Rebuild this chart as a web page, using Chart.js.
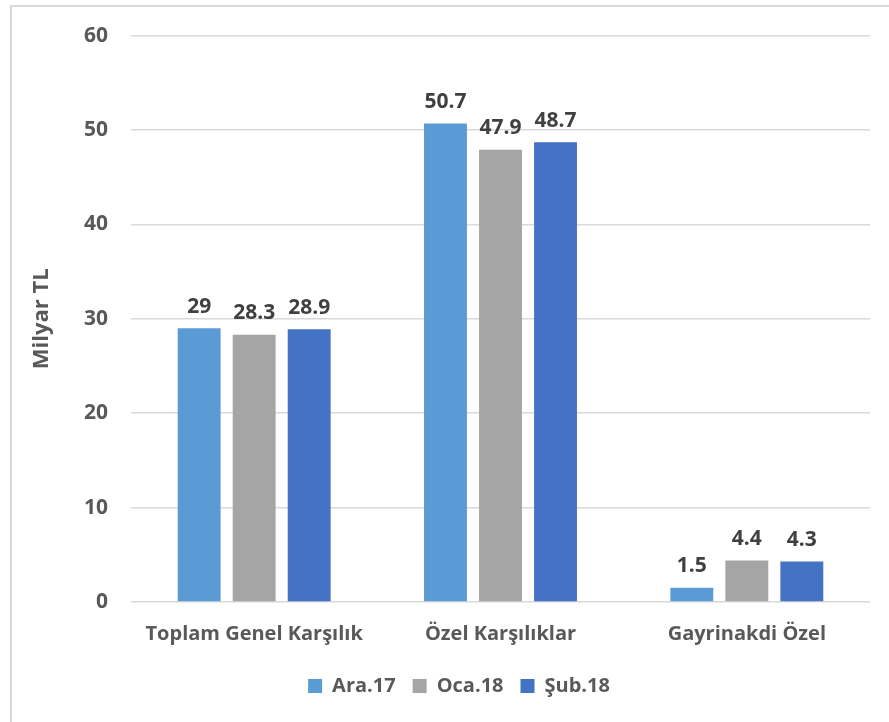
<!DOCTYPE html>
<html>
<head>
<meta charset="utf-8">
<script src="https://cdn.jsdelivr.net/npm/chart.js@4.4.1/dist/chart.umd.min.js"></script>
<style>
  html, body { margin: 0; padding: 0; background: #ffffff; }
  #frame { position: absolute; left: 10px; top: 5px; width: 900px; height: 730px; border-left: 2px solid #D9D9D9; border-top: 2px solid #D9D9D9; box-sizing: border-box; }
  #wrap { position: absolute; left: 0; top: 0; width: 889px; height: 722px; }
</style>
</head>
<body>
<div id="frame"></div>
<div id="wrap"><canvas id="c" width="889" height="722"></canvas></div>
<script>
const categories = ["Toplam Genel Karşılık", "Özel Karşılıklar", "Gayrinakdi Özel"];
const seriesNames = ["Ara.17", "Oca.18", "Şub.18"];
const ara17 = [29, 50.7, 1.5];
const oca18 = [28.3, 47.9, 4.4];
const sub18 = [28.9, 48.7, 4.3];
const yTicks = [0, 10, 20, 30, 40, 50, 60];

const FONT = "'Open Sans', sans-serif";
const TXT = "#595959";

const dataLabels = {
  id: 'dataLabels',
  afterDatasetsDraw(chart) {
    const ctx = chart.ctx;
    ctx.save();
    ctx.font = "bold 21px " + FONT;
    ctx.fillStyle = "#404040";
    ctx.textAlign = "center";
    ctx.textBaseline = "bottom";
    chart.data.datasets.forEach((ds, i) => {
      const meta = chart.getDatasetMeta(i);
      meta.data.forEach((bar, j) => {
        ctx.fillText(String(ds.data[j]), bar.x, bar.y - 11);
      });
    });
    ctx.restore();
  }
};

new Chart(document.getElementById('c'), {
  type: 'bar',
  data: {
    labels: categories,
    datasets: [
      { label: seriesNames[0], data: ara17, backgroundColor: "#5B9BD5" },
      { label: seriesNames[1], data: oca18, backgroundColor: "#A5A5A5" },
      { label: seriesNames[2], data: sub18, backgroundColor: "#4472C4" }
    ]
  },
  options: {
    responsive: false,
    animation: false,
    devicePixelRatio: 1,
    categoryPercentage: 0.67,
    barPercentage: 0.78,
    layout: { padding: { left: 48, right: 19, top: 34, bottom: 16 } },
    plugins: {
      legend: {
        position: 'bottom',
        labels: {
          font: { family: FONT, size: 20, weight: 'bold' },
          color: TXT,
          boxWidth: 14,
          boxHeight: 14,
          padding: 17
        }
      },
      tooltip: { enabled: false }
    },
    scales: {
      x: {
        grid: { display: false, drawTicks: false },
        border: { display: false },
        ticks: { font: { family: FONT, size: 20, weight: 'bold' }, color: TXT, padding: 20 },
        afterFit(scale) { scale.height = 57; }
      },
      y: {
        min: 0, max: 60,
        afterBuildTicks(scale) { scale.ticks = yTicks.map(v => ({ value: v })); },
        grid: { color: "#D9D9D9", lineWidth: 1.5, drawTicks: false },
        border: { display: false },
        ticks: { font: { family: FONT, size: 21, weight: 'bold' }, color: TXT, padding: 23 },
        title: {
          display: true, text: "Milyar TL",
          font: { family: FONT, size: 22, weight: 'bold' }, color: TXT,
          padding: { top: -19, bottom: 0 }
        },
        afterFit(scale) { scale.width = 83; }
      }
    }
  },
  plugins: [dataLabels]
});
</script>
</body>
</html>
